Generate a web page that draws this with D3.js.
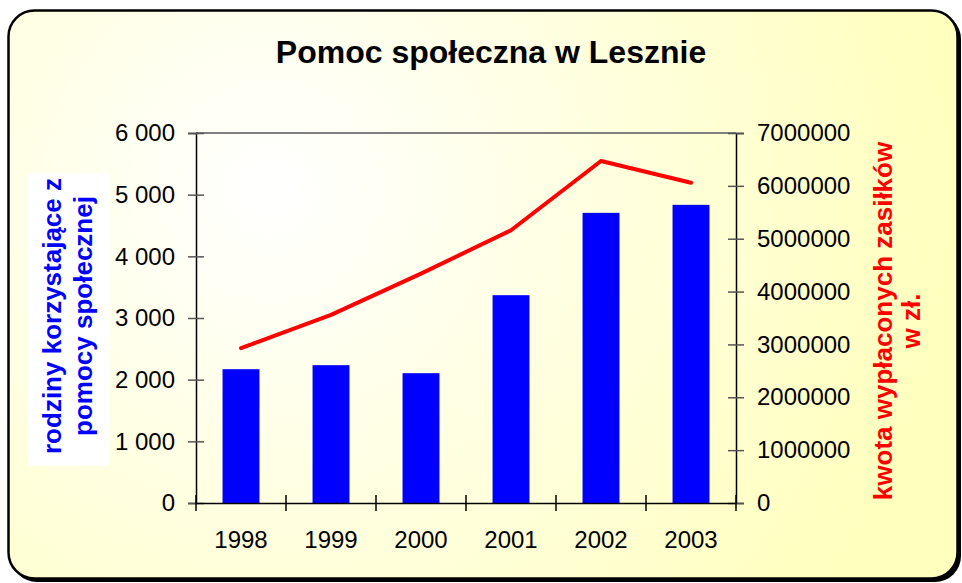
<!DOCTYPE html>
<html>
<head>
<meta charset="utf-8">
<script src="https://cdn.jsdelivr.net/npm/d3@7"></script>
<style>
  body { margin: 0; background: #fff; }
  svg { display: block; font-family: Arial, "Liberation Sans", sans-serif; }
</style>
</head>
<body>
<div id="chart"></div>
<script>
// chart data
var years = ["1998", "1999", "2000", "2001", "2002", "2003"];
var families = [2170, 2235, 2105, 3370, 4705, 4835];
var amounts = [2930000, 3560000, 4340000, 5160000, 6470000, 6060000];
var leftTicks = [0, 1000, 2000, 3000, 4000, 5000, 6000];
var rightTicks = [0, 1000000, 2000000, 3000000, 4000000, 5000000, 6000000, 7000000];

var W = 962, H = 583;
var plot = { left: 196, right: 736, top: 133, bottom: 503 };

var svg = d3.select("#chart").append("svg")
  .attr("width", W)
  .attr("height", H);

var defs = svg.append("defs");
var grad = defs.append("radialGradient")
  .attr("id", "bg")
  .attr("gradientUnits", "userSpaceOnUse")
  .attr("cx", 270).attr("cy", 190).attr("r", 680);
grad.append("stop").attr("offset", "0").attr("stop-color", "#ffffff");
grad.append("stop").attr("offset", "0.45").attr("stop-color", "#ffffe2");
grad.append("stop").attr("offset", "1").attr("stop-color", "#ffffbe");

// frame with shadow
svg.append("rect")
  .attr("x", 11).attr("y", 13)
  .attr("width", 950).attr("height", 569)
  .attr("rx", 26)
  .attr("fill", "#000");
svg.append("rect")
  .attr("x", 8.5).attr("y", 10.5)
  .attr("width", 949).attr("height", 568)
  .attr("rx", 26)
  .attr("fill", "url(#bg)")
  .attr("stroke", "#000")
  .attr("stroke-width", 2.5);

// scales
var x = d3.scaleBand()
  .domain(years)
  .range([plot.left, plot.right])
  .paddingInner(0.59)
  .paddingOuter(0.295);

var yL = d3.scaleLinear().domain([0, 6000]).range([plot.bottom, plot.top]);
var yR = d3.scaleLinear().domain([0, 7000000]).range([plot.bottom, plot.top]);

// top border of plot area
svg.append("line")
  .attr("x1", plot.left).attr("x2", plot.right)
  .attr("y1", plot.top).attr("y2", plot.top)
  .attr("stroke", "#808080").attr("stroke-width", 2);

// bars
svg.append("g").selectAll("rect")
  .data(families)
  .join("rect")
  .attr("x", function(d, i) { return x(years[i]); })
  .attr("width", x.bandwidth())
  .attr("y", function(d) { return yL(d); })
  .attr("height", function(d) { return yL(0) - yL(d); })
  .attr("fill", "#0000ff");

// line
var line = d3.line()
  .x(function(d, i) { return x(years[i]) + x.bandwidth() / 2; })
  .y(function(d) { return yR(d); });

svg.append("path")
  .datum(amounts)
  .attr("d", line)
  .attr("fill", "none")
  .attr("stroke", "#ff0000")
  .attr("stroke-width", 4)
  .attr("stroke-linejoin", "round")
  .attr("stroke-linecap", "round");

// left axis
var fmtL = function(d) { return d3.format(",")(d).replace(/,/g, " "); };
var axL = svg.append("g")
  .attr("transform", "translate(" + plot.left + ",0)")
  .call(d3.axisLeft(yL).tickValues(leftTicks).tickFormat(fmtL).tickSize(8).tickPadding(13));
axL.select(".domain").attr("stroke", "#000").attr("stroke-width", 1.5);
axL.selectAll(".tick line").attr("x1", 8).attr("stroke", "#555").attr("stroke-width", 1.5);
axL.selectAll(".tick text").attr("font-size", 24).attr("fill", "#000");

// right axis
var axR = svg.append("g")
  .attr("transform", "translate(" + plot.right + ",0)")
  .call(d3.axisRight(yR).tickValues(rightTicks).tickFormat(d3.format("d")).tickSize(8).tickPadding(13));
axR.select(".domain").attr("stroke", "#000").attr("stroke-width", 1.5);
axR.selectAll(".tick line").attr("x1", -8).attr("stroke", "#555").attr("stroke-width", 1.5);
axR.selectAll(".tick text").attr("font-size", 24).attr("fill", "#000");

// bottom axis
var axB = svg.append("g")
  .attr("transform", "translate(0," + plot.bottom + ")")
  .call(d3.axisBottom(x).tickSize(0).tickPadding(28));
axB.select(".domain").attr("stroke", "#000").attr("stroke-width", 1.5);
axB.selectAll(".tick text").attr("font-size", 24).attr("fill", "#000");

// category boundary ticks
var bounds = years.map(function(d) { return x(d) - x.step() * x.paddingInner() / 2; });
bounds.push(plot.right);
axB.selectAll(".bound")
  .data(bounds)
  .join("line")
  .attr("class", "bound")
  .attr("x1", function(d) { return d; })
  .attr("x2", function(d) { return d; })
  .attr("y1", -8).attr("y2", 8)
  .attr("stroke", "#000").attr("stroke-width", 1.5);

// title
svg.append("text")
  .attr("x", 491).attr("y", 63)
  .attr("text-anchor", "middle")
  .attr("font-size", 32)
  .attr("font-weight", "bold")
  .text("Pomoc społeczna w Lesznie");

// left axis title
svg.append("rect")
  .attr("x", 28).attr("y", 173)
  .attr("width", 81).attr("height", 293)
  .attr("fill", "#fff");
var tL = svg.append("g")
  .attr("transform", "translate(68,316) rotate(-90)")
  .attr("fill", "#0000ff")
  .attr("font-size", 26)
  .attr("font-weight", "bold")
  .attr("text-anchor", "middle");
tL.append("text").attr("y", -16).attr("dy", "0.35em").text("rodziny korzystające z");
tL.append("text").attr("y", 15).attr("dy", "0.35em").text("pomocy społecznej");

// right axis title
var tR = svg.append("g")
  .attr("transform", "translate(897,321) rotate(-90)")
  .attr("fill", "#ff0000")
  .attr("font-size", 26)
  .attr("font-weight", "bold")
  .attr("text-anchor", "middle");
tR.append("text").attr("y", -14).attr("dy", "0.35em").text("kwota wypłaconych zasiłków");
tR.append("text").attr("y", 14).attr("dy", "0.35em").text("w zł.");
</script>
</body>
</html>
